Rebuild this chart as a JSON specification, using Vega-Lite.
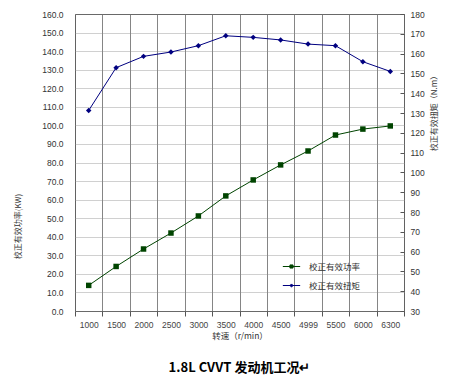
{
  "$schema": "https://vega.github.io/schema/vega-lite/v6.json",
  "autosize": "none",
  "width": 329,
  "height": 297,
  "padding": {"left": 75, "top": 14, "right": 55, "bottom": 69},
  "background": "white",
  "config": {
    "font": "Liberation Sans, Noto Sans CJK SC",
    "view": {"stroke": "#555", "strokeWidth": 1},
    "axis": {"labelFont": "Liberation Sans", "labelColor": "#333", "titleFont": "Noto Sans CJK SC", "titleFontWeight": "normal", "titleColor": "#333", "titleFontSize": 8.5, "labelFontSize": 8.5, "domain": false}
  },
  "title": {"text": "1.8L CVVT 发动机工况↵", "orient": "bottom", "font": "Noto Sans CJK SC", "fontSize": 13, "fontWeight": "bold", "color": "#000", "offset": 22},
  "data": {"values": [
    {"rpm": "1000", "power": 13.8, "torque": 131.3},
    {"rpm": "1500", "power": 24.0, "torque": 152.9},
    {"rpm": "2000", "power": 33.4, "torque": 158.6},
    {"rpm": "2500", "power": 42.0, "torque": 160.8},
    {"rpm": "3000", "power": 51.2, "torque": 164.0},
    {"rpm": "3500", "power": 62.0, "torque": 169.0},
    {"rpm": "4000", "power": 70.6, "torque": 168.2},
    {"rpm": "4500", "power": 78.7, "torque": 166.9},
    {"rpm": "4999", "power": 86.2, "torque": 164.8},
    {"rpm": "5500", "power": 94.8, "torque": 164.0},
    {"rpm": "6000", "power": 98.0, "torque": 155.9},
    {"rpm": "6300", "power": 99.7, "torque": 151.0}
  ]},
  "encoding": {
    "x": {"field": "rpm", "type": "ordinal", "sort": null,
      "scale": {"paddingInner": 0, "paddingOuter": 0},
      "axis": {"title": "转速（r/min）", "labelAngle": 0, "tickBand": "extent", "grid": true, "gridColor": "#666", "gridWidth": 0.8, "tickColor": "#555", "tickSize": 5, "labelPadding": 4, "labelColor": "#444", "titlePadding": 3}}
  },
  "layer": [
    {
      "transform": [{"calculate": "'校正有效功率'", "as": "series"}],
      "mark": {"type": "line", "point": {"shape": "square", "size": 30, "filled": true}, "strokeWidth": 1},
      "encoding": {
        "y": {"field": "power", "type": "quantitative",
          "scale": {"domain": [0, 160], "nice": false},
          "axis": {"title": "校正有效功率(KW)", "values": [0,10,20,30,40,50,60,70,80,90,100,110,120,130,140,150,160], "format": ".1f", "grid": true, "gridColor": "#888", "gridDash": [1, 1], "gridWidth": 0.8, "ticks": false, "labelPadding": 12, "titleX": -53, "titleY": 212, "titleFontSize": 8}},
        "color": {"field": "series", "type": "nominal",
          "scale": {"domain": ["校正有效功率", "校正有效扭矩"], "range": ["#004400", "#000080"]},
          "legend": {"title": null, "orient": "none", "legendX": 207, "legendY": 243, "labelFont": "Noto Sans CJK SC", "labelFontSize": 8.5, "labelColor": "#333", "symbolSize": 300, "symbolStrokeWidth": 1, "rowPadding": 5, "labelOffset": 8,
            "encode": {"symbols": {"update": {"shape": {"signal": "datum.value == '校正有效功率' ? 'M-1,0L1,0M-0.18,-0.18L0.18,-0.18L0.18,0.18L-0.18,0.18Z' : 'M-1,0L1,0M0,-0.18L0.18,0L0,0.18L-0.18,0Z'"}, "fill": {"signal": "datum.value == '校正有效功率' ? '#004400' : '#000080'"}, "stroke": {"signal": "datum.value == '校正有效功率' ? '#004400' : '#000080'"}}}}}}
      }
    },
    {
      "transform": [{"calculate": "'校正有效扭矩'", "as": "series"}],
      "mark": {"type": "line", "point": {"shape": "diamond", "size": 30, "filled": true}, "strokeWidth": 1},
      "encoding": {
        "y": {"field": "torque", "type": "quantitative",
          "scale": {"domain": [30, 180], "nice": false},
          "axis": {"orient": "right", "title": "校正有效扭矩（N.m）", "values": [30,40,50,60,70,80,90,100,110,120,130,140,150,160,170,180], "grid": false, "tickSize": -4, "tickColor": "#555", "labelPadding": 10, "titleX": 34, "titleY": 97, "titleAngle": 270, "titleFontSize": 8}},
        "color": {"field": "series", "type": "nominal"}
      }
    }
  ],
  "resolve": {"scale": {"y": "independent"}}
}
